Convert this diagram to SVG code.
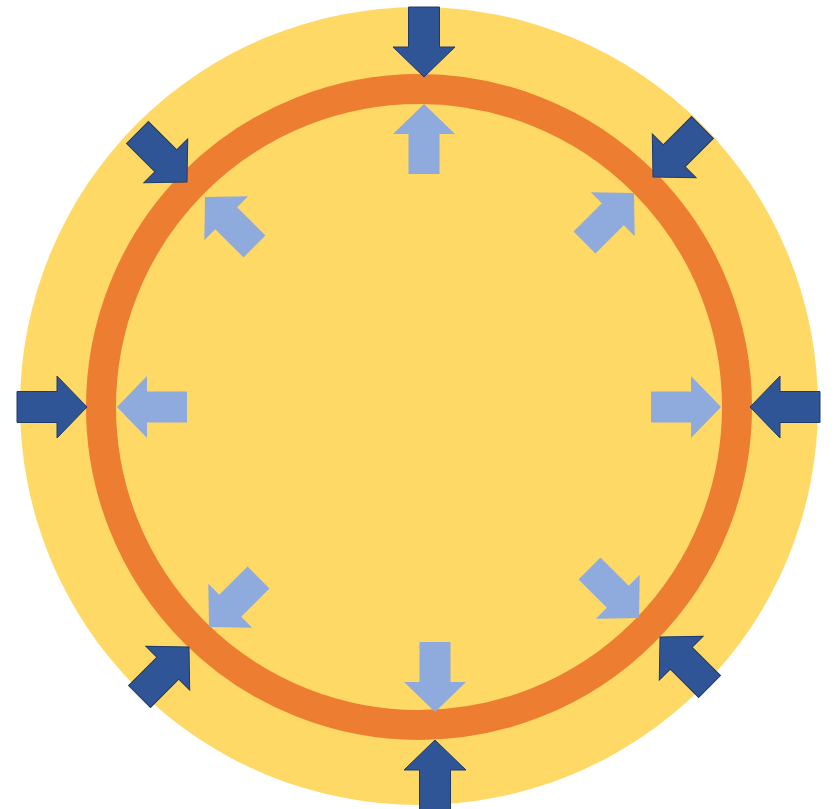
<svg xmlns="http://www.w3.org/2000/svg" width="835" height="809" viewBox="0 0 835 809">
  <style>
    .dark { fill: #2F5597; stroke: #1F3A6B; stroke-width: 1; stroke-linejoin: miter; }
    .light { fill: #8FAADC; }
  </style>
  <defs>
    <polygon id="arrow" points="-70,-15.5 -30,-15.5 -30,-31 0,0 -30,31 -30,15.5 -70,15.5"/>
  </defs>
  <rect width="835" height="809" fill="#FFFFFF"/>
  <g id="disc">
    <circle cx="419" cy="406" r="399" fill="#FFD966"/>
  </g>
  <g id="ring">
    <circle cx="419" cy="407" r="318" fill="none" stroke="#ED7D31" stroke-width="30"/>
  </g>
  <g id="connectors">
    <!-- outer dark arrows pointing inward -->
    <use href="#arrow" class="dark" transform="translate(424,77) rotate(90)"/>
    <use href="#arrow" class="dark" transform="translate(653,177) rotate(135)"/>
    <use href="#arrow" class="dark" transform="translate(750,407) rotate(180)"/>
    <use href="#arrow" class="dark" transform="translate(660,637) rotate(-135)"/>
    <use href="#arrow" class="dark" transform="translate(435,740) rotate(-90)"/>
    <use href="#arrow" class="dark" transform="translate(189,647) rotate(-45)"/>
    <use href="#arrow" class="dark" transform="translate(87,407) rotate(0)"/>
    <use href="#arrow" class="dark" transform="translate(187,182) rotate(45)"/>
    <!-- inner light arrows pointing outward -->
    <use href="#arrow" class="light" transform="translate(424,104) rotate(-90)"/>
    <use href="#arrow" class="light" transform="translate(634,193) rotate(-45)"/>
    <use href="#arrow" class="light" transform="translate(721,407) rotate(0)"/>
    <use href="#arrow" class="light" transform="translate(639,618) rotate(45)"/>
    <use href="#arrow" class="light" transform="translate(435,712) rotate(90)"/>
    <use href="#arrow" class="light" transform="translate(209,627) rotate(135)"/>
    <use href="#arrow" class="light" transform="translate(117,407) rotate(180)"/>
    <use href="#arrow" class="light" transform="translate(205,197) rotate(-135)"/>
  </g>
</svg>
